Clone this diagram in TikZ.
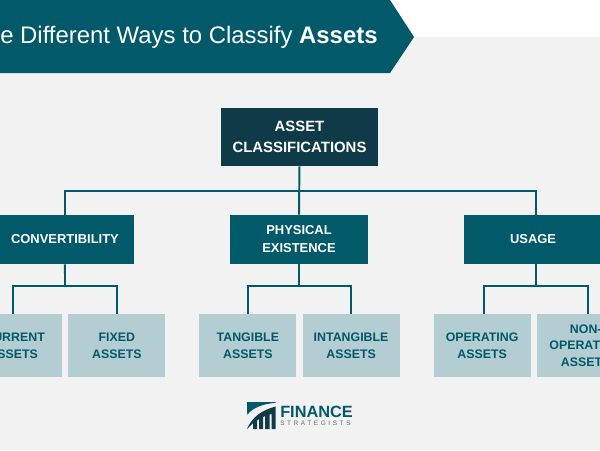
\documentclass[tikz,border=0pt]{standalone}
\usepackage{fontspec}
\setmainfont{Liberation Sans}
\newfontfamily\logofont[LetterSpace=40]{Liberation Sans}
\definecolor{teal}{HTML}{01596A}
\definecolor{darkteal}{HTML}{0F3A47}
\definecolor{paleteal}{HTML}{B3CDD3}
\definecolor{backgray}{HTML}{F2F2F2}
\definecolor{logogray}{HTML}{5A6E75}
\begin{document}
\begin{tikzpicture}[x=0.025cm,y=-0.025cm]
		\tikzstyle{rootblock} =[text width = 3.925cm, minimum height=1.45cm, inner sep=0pt, text badly centered, fill=darkteal, text=white, font=\fontsize{10.6}{14.5}\selectfont\bfseries];
		\tikzstyle{block} =[text width = 3.45cm, minimum height=1.225cm, inner sep=0pt, text badly centered, fill=teal, text=white, font=\fontsize{9.2}{12.8}\selectfont\bfseries];
		\tikzstyle{leaf} =[text width = 2.425cm, minimum height=1.575cm, inner sep=0pt, text badly centered, fill=paleteal, text=teal, font=\fontsize{8.8}{11.8}\selectfont\bfseries];
		\tikzstyle{link} =[draw=teal, line width=1.4pt];
		\useasboundingbox (0,0) rectangle (600,450);
		\clip (0,0) rectangle (600,450);
		\fill[backgray] (0,0) rectangle (600,450);
		\fill[white] (380,0) rectangle (600,37);
		\fill[teal] (0,0) -- (390,0) -- (414,37) -- (390,73) -- (0,73) -- cycle;
		\node[anchor=west, inner sep=0pt, text=white, font=\fontsize{17}{20}\selectfont] (title) at (0,37) {e Different Ways to Classify \textbf{Assets}};
		
		\node[rootblock] (root) at (299.5,137) {ASSET\\CLASSIFICATIONS};
		\node[block] (physical) at (299,239.5) {PHYSICAL\\EXISTENCE};
		\node[block, left of = physical, node distance=5.85cm] (conv) {CONVERTIBILITY};
		\node[block, right of = physical, node distance=5.85cm] (usage) {USAGE};
		
		\node[leaf] (current) at (13.2,345.5) {\hspace{0.95em}URRENT\\\hphantom{A}SSETS};
		\node[leaf, right of = current, node distance=2.59cm] (fixed) {FIXED\\ASSETS};
		\node[leaf, right of = fixed, node distance=3.275cm] (tangible) {TANGIBLE\\ASSETS};
		\node[leaf, right of = tangible, node distance=2.58cm] (intangible) {INTANGIBLE\\ASSETS};
		\node[leaf, right of = intangible, node distance=3.275cm] (operating) {OPERATING\\ASSETS};
		\node[leaf, right of = operating, node distance=2.59cm] (nonop) {NON-\\OPERAT\hphantom{ING}\\ASSET\hphantom{S}};
		
		\coordinate (rootbus) at (299,191);
		\coordinate (convbus) at (65,286);
		\coordinate (physicalbus) at (299,286);
		\coordinate (usagebus) at (536,286);
		\coordinate (operatingtop) at (484,314);
		\coordinate (noptop) at (588,314);
		
		\draw[link] (root) -- (physical);
		\draw[link] (rootbus) -| (conv);
		\draw[link] (rootbus) -| (usagebus |- usage.north);
		\draw[link] (conv) -- (convbus);
		\draw[link] (convbus) -| (current);
		\draw[link] (convbus) -| (fixed);
		\draw[link] (physical) -- (physicalbus);
		\draw[link] (physicalbus) -| (tangible);
		\draw[link] (physicalbus) -| (intangible);
		\draw[link] (usagebus |- usage.south) -- (usagebus);
		\draw[link] (usagebus) -| (operatingtop);
		\draw[link] (usagebus) -| (noptop);
		
		\fill[teal] (247,402) -- (275.7,402) -- (275.7,402.8) .. controls (262,404) and (252,408) .. (247.3,415) -- cycle;
		\fill[darkteal] (247,429) .. controls (252,417) and (262,410) .. (275.7,406.5) -- (275.7,429) -- (271.5,429) -- (271.5,414) -- (269.5,414.5) -- (269.5,429) -- (265,429) -- (265,416) -- (263,417) -- (263,429) -- (259,429) -- (259,419) -- (257,420.5) -- (257,429) -- (253,429) -- (253,423) -- cycle;
		\node[anchor=west, inner sep=0pt, text=teal, font=\fontsize{11.6}{12}\selectfont\bfseries] (finance) at (280,411.5) {FINANCE};
		\node[anchor=west, inner sep=0pt, text=logogray, font=\logofont\fontsize{4.6}{5}\selectfont] (strategists) at (280,422.8) {STRATEGISTS};
	\end{tikzpicture}
\end{document}
